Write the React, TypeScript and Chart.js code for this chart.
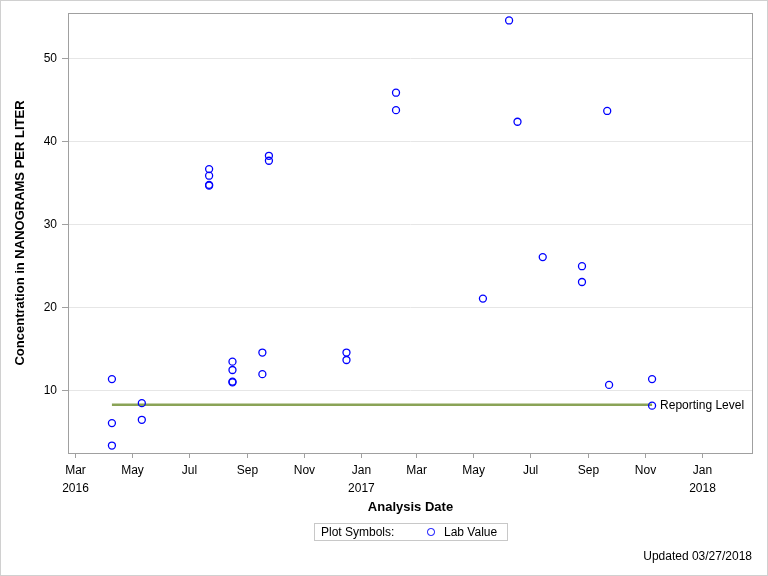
import React, { useEffect, useRef } from "react";
import { Chart, registerables } from "chart.js";

Chart.register(...registerables);

// ---- data ----
const sampleDates: string[] = [
  "2016-04-09", "2016-04-09", "2016-04-09",
  "2016-05-11", "2016-05-11",
  "2016-07-22", "2016-07-22", "2016-07-22", "2016-07-22",
  "2016-08-16", "2016-08-16", "2016-08-16", "2016-08-16",
  "2016-09-17", "2016-09-17",
  "2016-09-24", "2016-09-24",
  "2016-12-16", "2016-12-16",
  "2017-02-07", "2017-02-07",
  "2017-05-11",
  "2017-06-08",
  "2017-06-17",
  "2017-07-14",
  "2017-08-25", "2017-08-25",
  "2017-09-21",
  "2017-09-23",
  "2017-11-08", "2017-11-08",
];
const labValues: number[] = [
  11.4, 6.1, 3.4,
  8.5, 6.5,
  36.7, 35.9, 34.8, 34.7,
  13.5, 12.5, 11.1, 11.0,
  14.6, 12.0,
  38.3, 37.7,
  14.6, 13.7,
  45.9, 43.8,
  21.1,
  54.6,
  42.4,
  26.1,
  25.0, 23.1,
  43.7,
  10.7,
  11.4, 8.2,
];
const reportingDates: string[] = ["2016-04-09", "2017-11-08"];
const reportingLevel: number[] = [8.3, 8.3];

const xTickDates: string[] = [
  "2016-03-01", "2016-05-01", "2016-07-01", "2016-09-01", "2016-11-01",
  "2017-01-01", "2017-03-01", "2017-05-01", "2017-07-01", "2017-09-01",
  "2017-11-01", "2018-01-01",
];
const xTickLabels: (string | string[])[] = [
  ["Mar", "2016"], "May", "Jul", "Sep", "Nov",
  ["Jan", "2017"], "Mar", "May", "Jul", "Sep",
  "Nov", ["Jan", "2018"],
];
const yTickValues: number[] = [10, 20, 30, 40, 50];
const xRange: string[] = ["2016-02-22", "2018-02-24"];
const yRange: number[] = [2.5, 55.5];

const toTs = (s: string) => {
  const [y, m, d] = s.split("-").map(Number);
  return Date.UTC(y, m - 1, d);
};

const FONT = "'Liberation Sans', Arial, sans-serif";

export default function App() {
  const ref = useRef<HTMLCanvasElement | null>(null);

  useEffect(() => {
    if (!ref.current) return;
    const framePlugin = {
      id: "frame",
      beforeDraw(chart: any) {
        const { ctx, width, height } = chart;
        ctx.save();
        ctx.fillStyle = "#ffffff";
        ctx.fillRect(0, 0, width, height);
        ctx.strokeStyle = "#d0d0d0";
        ctx.lineWidth = 1;
        ctx.strokeRect(0.5, 0.5, width - 1, height - 1);
        ctx.restore();
      },
      afterDraw(chart: any) {
        const { ctx, chartArea } = chart;
        ctx.save();
        ctx.strokeStyle = "#a0a0a0";
        ctx.lineWidth = 1;
        ctx.strokeRect(
          Math.round(chartArea.left) + 0.5,
          Math.round(chartArea.top) + 0.5,
          Math.round(chartArea.right - chartArea.left) - 1,
          Math.round(chartArea.bottom - chartArea.top)
        );
        ctx.restore();
      },
      afterDatasetsDraw(chart: any) {
        const { ctx, scales } = chart;
        const x = scales.x.getPixelForValue(toTs(reportingDates[1]));
        const y = scales.y.getPixelForValue(reportingLevel[1]);
        ctx.save();
        ctx.fillStyle = "#000000";
        ctx.font = `12px ${FONT}`;
        ctx.textBaseline = "middle";
        ctx.textAlign = "left";
        ctx.fillText("Reporting Level", x + 8, y + 1);
        ctx.restore();
      },
    };

    const chart = new Chart(ref.current, {
      type: "scatter",
      data: {
        datasets: [
          {
            label: "Lab Value",
            data: sampleDates.map((d, i) => ({ x: toTs(d), y: labValues[i] })),
            pointStyle: "circle",
            pointRadius: 3.5,
            pointBorderWidth: 1.3,
            borderColor: "#0000ff",
            backgroundColor: "rgba(0,0,0,0)",
            pointBackgroundColor: "rgba(0,0,0,0)",
            showLine: false,
            order: 0,
          } as any,
          {
            type: "line",
            label: "Reporting Level",
            data: reportingDates.map((d, i) => ({ x: toTs(d), y: reportingLevel[i] })),
            borderColor: "#8aa356",
            borderWidth: 2.5,
            pointRadius: 0,
            showLine: true,
            fill: false,
            order: 1,
          } as any,
        ],
      },
      options: {
        animation: false,
        responsive: false,
        devicePixelRatio: 1,
        layout: { padding: { left: 0, top: 13, right: 15, bottom: 61 } },
        plugins: {
          legend: { display: false },
          tooltip: { enabled: false },
        },
        scales: {
          x: {
            type: "linear",
            min: toTs(xRange[0]),
            max: toTs(xRange[1]),
            afterBuildTicks: (scale: any) => {
              scale.ticks = xTickDates.map((d) => ({ value: toTs(d) }));
            },
            afterFit: (scale: any) => {
              scale.height = 62;
            },
            ticks: {
              autoSkip: false,
              maxRotation: 0,
              minRotation: 0,
              padding: 4,
              color: "#000000",
              font: { family: FONT, size: 12, lineHeight: 1.5 },
              callback: (_v: any, i: number) => xTickLabels[i],
            },
            grid: {
              drawOnChartArea: false,
              drawTicks: true,
              tickLength: 5,
              tickColor: "#a0a0a0",
            },
            border: { display: false },
            title: {
              display: true,
              text: "Analysis Date",
              color: "#000000",
              font: { family: FONT, size: 13, weight: "bold" },
              padding: { top: 0, bottom: 0 },
            },
          },
          y: {
            type: "linear",
            min: yRange[0],
            max: yRange[1],
            afterBuildTicks: (scale: any) => {
              scale.ticks = yTickValues.map((v) => ({ value: v }));
            },
            afterFit: (scale: any) => {
              scale.width = 68;
            },
            ticks: {
              padding: 5,
              color: "#000000",
              font: { family: FONT, size: 12 },
            },
            grid: {
              color: "#e6e6e6",
              drawTicks: true,
              tickLength: 6,
              tickColor: "#a0a0a0",
            },
            border: { display: false },
            title: {
              display: true,
              text: "Concentration in NANOGRAMS PER LITER",
              color: "#000000",
              font: { family: FONT, size: 13, weight: "bold" },
              padding: { top: 13, bottom: 0 },
            },
          },
        },
      } as any,
      plugins: [framePlugin],
    });
    return () => chart.destroy();
  }, []);

  return (
    <div
      style={{
        position: "fixed",
        left: 0,
        top: 0,
        width: 768,
        height: 576,
        fontFamily: FONT,
        background: "#fff",
      }}
    >
      <canvas ref={ref} width={768} height={576} style={{ width: 768, height: 576, display: "block" }} />
      <div
        style={{
          position: "absolute",
          left: 314,
          top: 523,
          width: 192,
          height: 16,
          border: "1px solid #c8c8c8",
          fontSize: 12,
          lineHeight: "16px",
          color: "#000",
          whiteSpace: "nowrap",
        }}
      >
        <span style={{ position: "absolute", left: 6, top: 0 }}>Plot Symbols:</span>
        <span
          style={{
            position: "absolute",
            left: 112,
            top: 4,
            width: 5.5,
            height: 5.5,
            border: "1.3px solid #0000ff",
            borderRadius: "50%",
          }}
        />
        <span style={{ position: "absolute", left: 129, top: 0 }}>Lab Value</span>
      </div>
      <div
        style={{
          position: "absolute",
          right: 16,
          top: 548,
          fontSize: 12,
          lineHeight: "16px",
          color: "#000",
          whiteSpace: "nowrap",
        }}
      >
        Updated 03/27/2018
      </div>
    </div>
  );
}
